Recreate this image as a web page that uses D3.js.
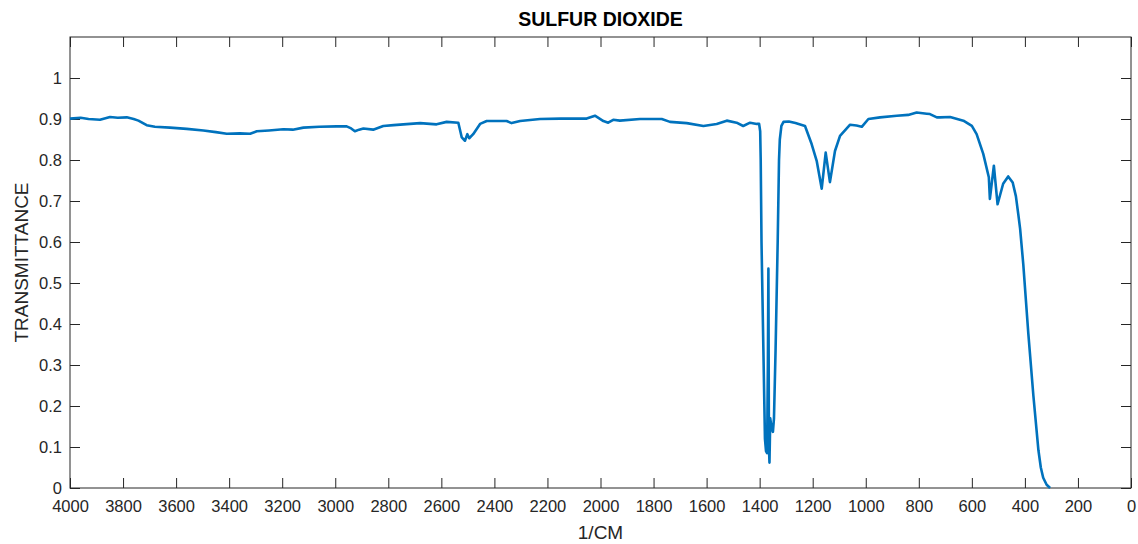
<!DOCTYPE html>
<html>
<head>
<meta charset="utf-8">
<script src="https://cdn.jsdelivr.net/npm/d3@7"></script>
<style>
  body { margin: 0; background: #fff; overflow: hidden; }
  svg { display: block; font-family: "Liberation Sans", Arial, sans-serif; }
  .tick text { fill: #262626; }
</style>
</head>
<body>
<svg id="plot" width="1138" height="544"></svg>
<script>
// spectrum (wavenumber 1/cm, transmittance)
const wavenumbers = [
  4000, 3960, 3930, 3887, 3849, 3820, 3786, 3760, 3742, 3711, 3680, 3623, 3560, 3497, 3450,
  3409, 3360, 3321, 3296, 3250, 3196, 3160, 3120, 3060, 2995, 2957, 2940, 2926, 2910, 2894,
  2857, 2819, 2780, 2743, 2680, 2618, 2580, 2536, 2523, 2511, 2502, 2495, 2480, 2454, 2429,
  2354, 2335, 2303, 2228, 2150, 2052, 2021, 1989, 1971, 1952, 1927, 1851, 1769, 1738, 1675,
  1612, 1562, 1524, 1487, 1462, 1436, 1411, 1402, 1398, 1396, 1393, 1386, 1380, 1376, 1372,
  1369, 1367, 1365, 1363, 1360, 1356, 1350, 1346, 1340, 1332, 1327, 1324, 1318, 1310, 1290,
  1265, 1229, 1204, 1185, 1166, 1151, 1135, 1116, 1097, 1059, 1035, 1015, 990, 946, 883,
  840, 808, 770, 758, 732, 720, 682, 632, 600, 582, 557, 536, 532, 517, 503,
  482, 463, 446, 434, 425, 418, 406, 387, 368, 349, 340, 331, 318, 305
];
const transmittance = [
  0.901, 0.903, 0.900, 0.898, 0.905, 0.903, 0.904, 0.900, 0.896, 0.885, 0.881, 0.879, 0.876, 0.872, 0.868,
  0.864, 0.865, 0.864, 0.870, 0.872, 0.875, 0.874, 0.879, 0.881, 0.882, 0.882, 0.877, 0.870, 0.874, 0.877,
  0.874, 0.883, 0.885, 0.887, 0.890, 0.887, 0.893, 0.891, 0.855, 0.847, 0.863, 0.853, 0.863, 0.888, 0.895,
  0.895, 0.890, 0.895, 0.900, 0.901, 0.901, 0.908, 0.895, 0.891, 0.898, 0.896, 0.900, 0.900, 0.893, 0.890,
  0.883, 0.888, 0.896, 0.891, 0.883, 0.891, 0.888, 0.888, 0.870, 0.800, 0.600, 0.340, 0.120, 0.090, 0.085,
  0.300, 0.535, 0.100, 0.062, 0.170, 0.150, 0.137, 0.170, 0.336, 0.600, 0.800, 0.850, 0.883, 0.893, 0.894,
  0.890, 0.883, 0.839, 0.798, 0.730, 0.818, 0.746, 0.822, 0.859, 0.886, 0.884, 0.881, 0.900, 0.904, 0.908,
  0.910, 0.916, 0.913, 0.912, 0.904, 0.904, 0.905, 0.896, 0.883, 0.863, 0.815, 0.758, 0.705, 0.786, 0.692,
  0.742, 0.760, 0.745, 0.712, 0.668, 0.632, 0.545, 0.376, 0.225, 0.092, 0.050, 0.025, 0.008, 0.000
];
const xTicks = d3.range(4000, -1, -200);
const yTicks = d3.range(0, 11).map(i => i / 10);

const svg = d3.select("#plot");
const margin = {top: 37, right: 7, bottom: 56, left: 70};
const innerWidth = 1138 - margin.left - margin.right;
const innerHeight = 544 - margin.top - margin.bottom;

const g = svg.append("g")
    .attr("transform", `translate(${margin.left}, ${margin.top})`);

const xScale = d3.scaleLinear().domain([4000, 0]).range([0, innerWidth]);
const yScale = d3.scaleLinear().domain([0, 1.1]).range([innerHeight, 0]);

// ticks point inward, mirrored on top and right like matlab's box
const axisColor = "#262626";
function styleAxis(sel, showText) {
    sel.select(".domain").remove();
    sel.selectAll(".tick line").attr("stroke", axisColor);
    sel.selectAll(".tick text").attr("font-size", "16.5px");
    if (!showText) sel.selectAll(".tick text").remove();
}

g.append("g")
    .attr("transform", `translate(0, ${innerHeight})`)
    .call(d3.axisBottom(xScale).tickValues(xTicks).tickSizeInner(-10).tickPadding(12).tickFormat(d3.format("d")))
    .call(s => styleAxis(s, true));

g.append("g")
    .call(d3.axisTop(xScale).tickValues(xTicks).tickSizeInner(-10))
    .call(s => styleAxis(s, false));

g.append("g")
    .call(d3.axisLeft(yScale).tickValues(yTicks).tickSizeInner(-10).tickPadding(8).tickFormat(d => d === 0 ? "0" : d === 1 ? "1" : d3.format(".1f")(d)))
    .call(s => styleAxis(s, true));

g.append("g")
    .attr("transform", `translate(${innerWidth}, 0)`)
    .call(d3.axisRight(yScale).tickValues(yTicks).tickSizeInner(-10))
    .call(s => styleAxis(s, false));

// box
g.append("rect")
    .attr("width", innerWidth)
    .attr("height", innerHeight)
    .attr("fill", "none")
    .attr("stroke", axisColor)
    .attr("stroke-width", 1);

// spectrum line
const points = wavenumbers.map((w, i) => [w, transmittance[i]]);
const line = d3.line()
    .x(d => xScale(d[0]))
    .y(d => yScale(d[1]));

g.append("path")
    .datum(points)
    .attr("d", line)
    .attr("fill", "none")
    .attr("stroke", "#0072BD")
    .attr("stroke-width", 2.6)
    .attr("stroke-linejoin", "round");

// labels
svg.append("text")
    .attr("x", margin.left + innerWidth / 2)
    .attr("y", 26)
    .attr("text-anchor", "middle")
    .attr("font-size", "19.5px")
    .attr("font-weight", "bold")
    .attr("fill", "#000")
    .text("SULFUR DIOXIDE");

svg.append("text")
    .attr("x", margin.left + innerWidth / 2)
    .attr("y", 539)
    .attr("text-anchor", "middle")
    .attr("font-size", "19px")
    .attr("fill", axisColor)
    .text("1/CM");

svg.append("text")
    .attr("transform", `translate(28, ${margin.top + innerHeight / 2}) rotate(-90)`)
    .attr("text-anchor", "middle")
    .attr("font-size", "19px")
    .attr("fill", axisColor)
    .text("TRANSMITTANCE");
</script>
</body>
</html>
